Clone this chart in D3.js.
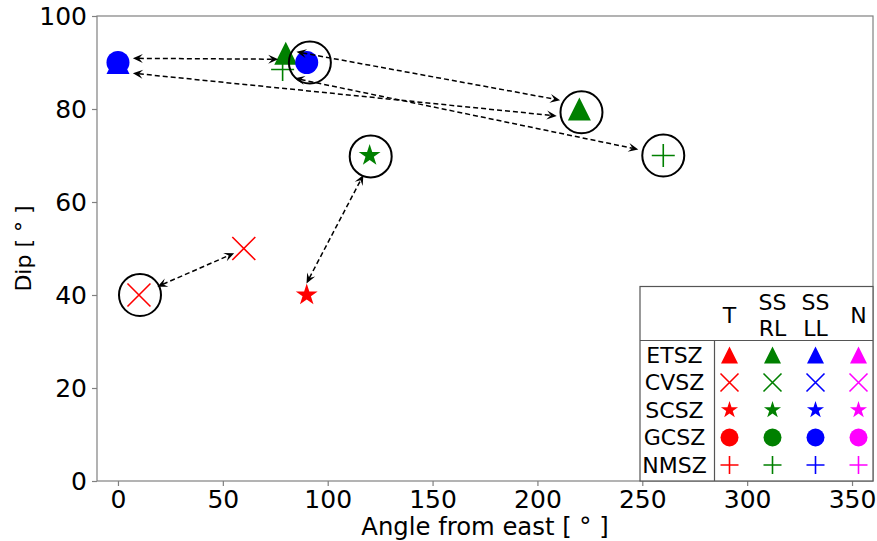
<!DOCTYPE html>
<html>
<head>
<meta charset="utf-8">
<script src="https://cdn.jsdelivr.net/npm/d3@7"></script>
<style>
  body { margin: 0; background: #fff; }
  text { font-family: "DejaVu Sans", sans-serif; fill: #000; }
</style>
</head>
<body>
<svg id="chart" width="877" height="541"></svg>
<script>
// zones (rows of the key) and their marker shapes
const zones = ["ETSZ", "CVSZ", "SCSZ", "GCSZ", "NMSZ"];
const zoneMarkers = ["triangle", "x", "star", "circle", "plus"];
// fault types (columns of the key) and their colours
const faultTypes = ["T", "SS RL", "SS LL", "N"];
const faultColors = ["red", "green", "blue", "magenta"];

// plotted solutions
const ptZone  = ["ETSZ", "GCSZ", "ETSZ", "NMSZ", "GCSZ", "ETSZ", "NMSZ", "SCSZ", "SCSZ", "CVSZ", "CVSZ"];
const ptType  = ["SS LL", "SS LL", "SS RL", "SS RL", "SS LL", "SS RL", "SS RL", "SS RL", "T", "T", "T"];
const ptAngle = [0, 0, 80, 78.5, 90, 220, 260, 120, 90, 60, 10];
const ptDip   = [90, 90, 92, 88.5, 90, 80, 70, 70, 40, 50, 40];

// open black circles round the preferred solutions
const ringAngle = [91.5, 221, 260, 120.5, 10.5];
const ringDip   = [90, 79.3, 70, 69.8, 40];

// dashed double-headed arrows, tip to tip (angle, dip)
const arrowFrom = [[7.1, 90.9], [7.1, 87.7], [85.1, 92.3], [84.3, 86.6], [18.8, 41.8], [89.9, 42.5]];
const arrowTo   = [[76.4, 90.7], [209.2, 78.5], [210.8, 81.9], [248.1, 71.3], [55.4, 49.0], [117.0, 65.8]];

const xTicks = [0, 50, 100, 150, 200, 250, 300, 350];
const yTicks = [0, 20, 40, 60, 80, 100];

const margin = { top: 16, right: 4, bottom: 60, left: 97 };
const width = 877, height = 541;
const spine = "#808080";

const svg = d3.select("#chart");

const x = d3.scaleLinear().domain([-10, 360]).range([margin.left, width - margin.right]);
const y = d3.scaleLinear().domain([0, 100]).range([height - margin.bottom, margin.top]);

// marker paths in the matplotlib style, ms = marker size in px
function markerPath(kind, ms) {
  const h = ms / 2;
  if (kind === "triangle") return `M0,${-h}L${h},${h}L${-h},${h}Z`;
  if (kind === "circle") return `M${h},0A${h},${h} 0 1,1 ${-h},0A${h},${h} 0 1,1 ${h},0Z`;
  if (kind === "x") return `M${-h},${-h}L${h},${h}M${-h},${h}L${h},${-h}`;
  if (kind === "plus") return `M${-h},0L${h},0M0,${-h}L0,${h}`;
  // star
  const pts = [];
  for (let i = 0; i < 10; i++) {
    const r = i % 2 === 0 ? h : h * 0.381966;
    const a = -Math.PI / 2 + i * Math.PI / 5;
    pts.push([r * Math.cos(a), r * Math.sin(a)]);
  }
  return "M" + pts.map(p => p.join(",")).join("L") + "Z";
}
const isLine = k => k === "x" || k === "plus";

function drawMarker(g, kind, color, ms, px, py) {
  const p = g.append("path")
    .attr("d", markerPath(kind, ms))
    .attr("transform", `translate(${px},${py})`);
  if (isLine(kind)) p.attr("fill", "none").attr("stroke", color).attr("stroke-width", 1.6);
  else p.attr("fill", color);
}

const zoneMarker = d3.scaleOrdinal().domain(zones).range(zoneMarkers);
const typeColor = d3.scaleOrdinal().domain(faultTypes).range(faultColors);

// axes
const xAxis = svg.append("g")
  .attr("transform", `translate(0,${y(0)})`)
  .call(d3.axisBottom(x).tickValues(xTicks).tickSize(5).tickPadding(4));
const yAxis = svg.append("g")
  .attr("transform", `translate(${x(-10)},0)`)
  .call(d3.axisLeft(y).tickValues(yTicks).tickSize(5).tickPadding(5));
[xAxis, yAxis].forEach(a => {
  a.select(".domain").remove();
  a.selectAll(".tick line").attr("stroke", spine).attr("stroke-width", 1.2);
  a.selectAll(".tick text").attr("font-size", 25).attr("fill", "#000")
    .attr("font-family", "DejaVu Sans, sans-serif");
});

svg.append("rect")
  .attr("x", x(-10)).attr("y", y(100))
  .attr("width", x(360) - x(-10)).attr("height", y(0) - y(100))
  .attr("fill", "none").attr("stroke", spine).attr("stroke-width", 1.2);

// axis titles
svg.append("text")
  .attr("x", (x(-10) + x(360)) / 2).attr("y", 535)
  .attr("text-anchor", "middle").attr("font-size", 24.3)
  .text("Angle from east [ ° ]");
svg.append("text")
  .attr("transform", `translate(31,${(y(0) + y(100)) / 2}) rotate(-90)`)
  .attr("text-anchor", "middle").attr("font-size", 22)
  .text("Dip [ ° ]");

// points
const plot = svg.append("g");
ptAngle.forEach((a, i) => {
  drawMarker(plot, zoneMarker(ptZone[i]), typeColor(ptType[i]), 23, x(a), y(ptDip[i]));
});

plot.selectAll(".ring")
  .data(ringAngle)
  .enter()
  .append("circle")
  .attr("cx", d => x(d))
  .attr("cy", (d, i) => y(ringDip[i]))
  .attr("r", 21)
  .attr("fill", "none")
  .attr("stroke", "#000")
  .attr("stroke-width", 2);

// arrows
function head(g, tip, dir) {
  const L = 10, W = 4.5;
  const n = [-dir[1], dir[0]];
  const bx = tip[0] - dir[0] * L, by = tip[1] - dir[1] * L;
  const nx = tip[0] - dir[0] * L * 0.6, ny = tip[1] - dir[1] * L * 0.6;
  g.append("path")
    .attr("d", `M${tip[0]},${tip[1]}L${bx + n[0] * W},${by + n[1] * W}L${nx},${ny}L${bx - n[0] * W},${by - n[1] * W}Z`)
    .attr("fill", "#000");
}
const arrows = svg.append("g");
arrowFrom.forEach((f, i) => {
  const p0 = [x(f[0]), y(f[1])];
  const p1 = [x(arrowTo[i][0]), y(arrowTo[i][1])];
  const len = Math.hypot(p1[0] - p0[0], p1[1] - p0[1]);
  const u = [(p1[0] - p0[0]) / len, (p1[1] - p0[1]) / len];
  arrows.append("line")
    .attr("x1", p0[0] + u[0] * 6).attr("y1", p0[1] + u[1] * 6)
    .attr("x2", p1[0] - u[0] * 6).attr("y2", p1[1] - u[1] * 6)
    .attr("stroke", "#000").attr("stroke-width", 1.5)
    .attr("stroke-dasharray", "5,3");
  head(arrows, p1, u);
  head(arrows, p0, [-u[0], -u[1]]);
});

// key table in the lower right corner
const tbl = { left: 640, top: 286.5, right: x(360), bottom: y(0), headBottom: 340.5, split: 714.5 };
const key = svg.append("g");
key.append("rect")
  .attr("x", tbl.left).attr("y", tbl.top)
  .attr("width", tbl.right - tbl.left).attr("height", tbl.bottom - tbl.top)
  .attr("fill", "#fff").attr("stroke", "#555").attr("stroke-width", 1.2);
key.append("line")
  .attr("x1", tbl.left).attr("x2", tbl.right)
  .attr("y1", tbl.headBottom).attr("y2", tbl.headBottom)
  .attr("stroke", "#555").attr("stroke-width", 1.2);
key.append("line")
  .attr("x1", tbl.split).attr("x2", tbl.split)
  .attr("y1", tbl.headBottom).attr("y2", tbl.bottom)
  .attr("stroke", "#555").attr("stroke-width", 1.2);

const col = d3.scalePoint().domain(faultTypes).range([729.5, 858.5]);
const row = d3.scalePoint().domain(zones).range([355, 465]);

faultTypes.forEach(t => {
  const parts = t.split(" ");
  const txt = key.append("text")
    .attr("x", col(t)).attr("text-anchor", "middle").attr("font-size", 22);
  if (parts.length === 1) {
    txt.attr("y", 315).attr("dy", "0.35em").text(t);
  } else {
    parts.forEach((p, j) => {
      txt.append("tspan").attr("x", col(t)).attr("y", 302 + j * 26.5).attr("dy", "0.35em").text(p);
    });
  }
});

zones.forEach(z => {
  key.append("text")
    .attr("x", 674.5).attr("y", row(z)).attr("dy", "0.35em")
    .attr("text-anchor", "middle").attr("font-size", 22)
    .text(z);
  faultTypes.forEach(t => {
    const k = zoneMarker(z);
    drawMarker(key, k, typeColor(t), k === "triangle" ? 17 : 18, col(t), row(z));
  });
});
</script>
</body>
</html>
